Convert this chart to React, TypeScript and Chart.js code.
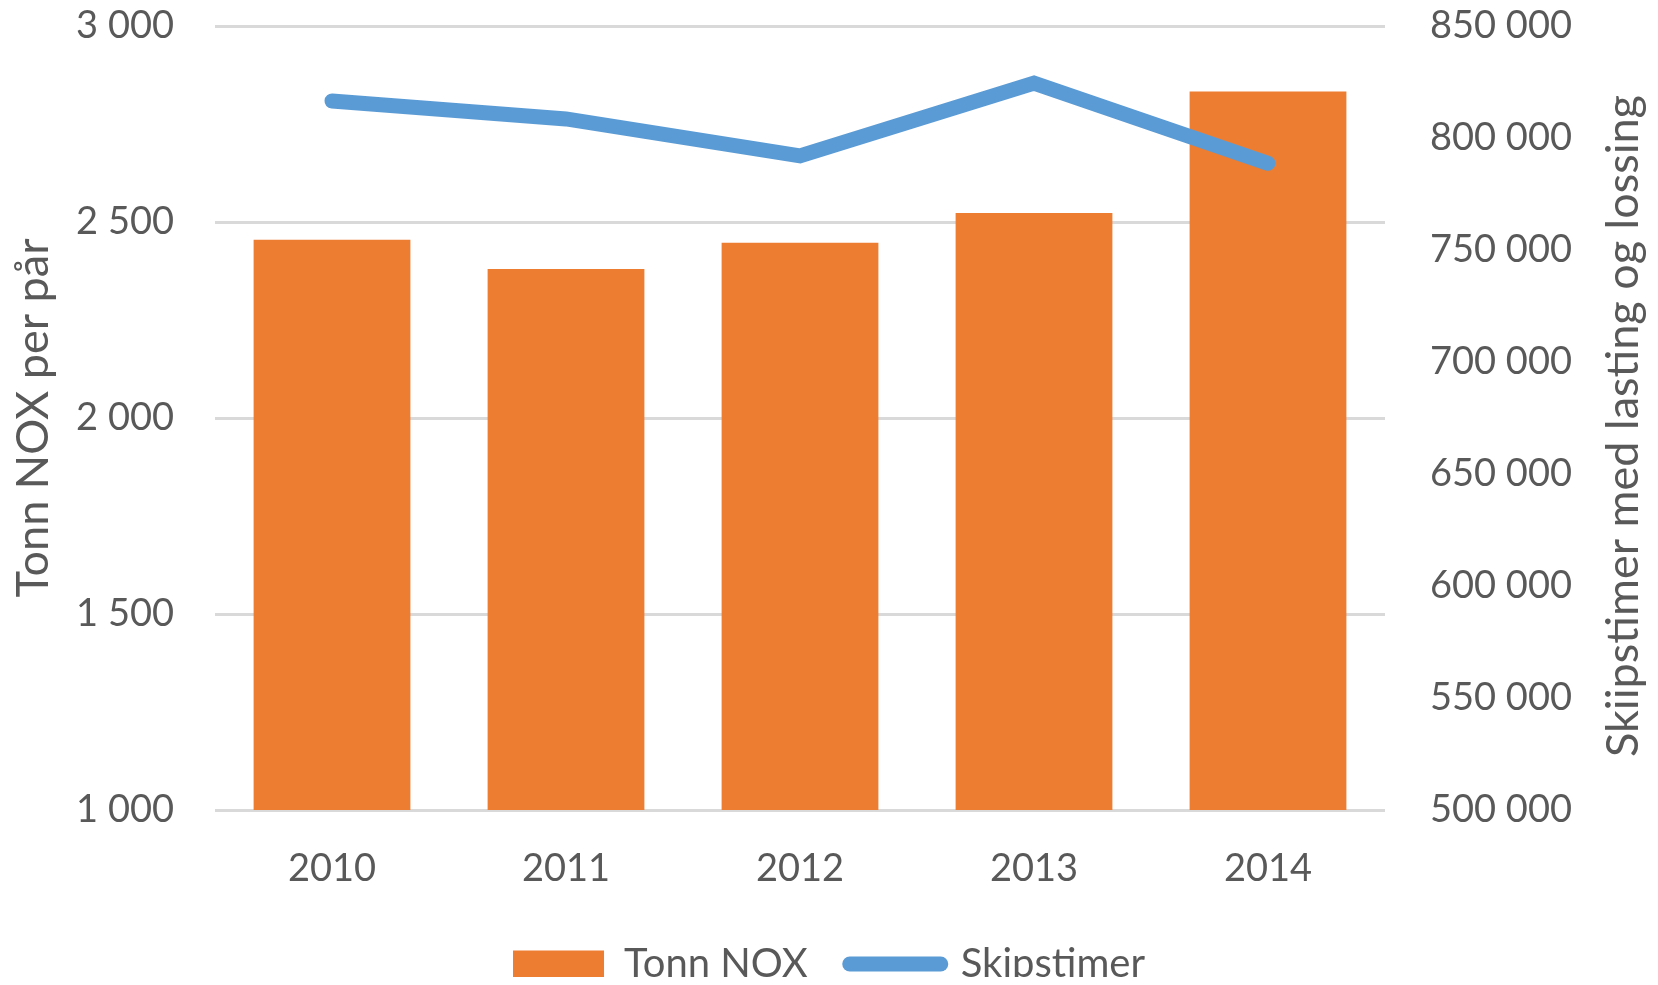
import React, { useEffect, useRef } from 'react';
import { Chart, registerables } from 'chart.js';

Chart.register(...registerables);

const years = ['2010', '2011', '2012', '2013', '2014'];
const tonnNox = [2455, 2380, 2447, 2523, 2833];
const skipstimer = [816500, 808500, 792000, 824500, 788700];
const leftMin = 1000;
const leftMax = 3000;
const leftStep = 500;
const rightMin = 500000;
const rightMax = 850000;
const rightStep = 50000;
const leftTitle = 'Tonn NOX per pår';
const rightTitle = 'Skiipstimer med lasting og lossing';
const barLabel = 'Tonn NOX';
const lineLabel = 'Skipstimer';

const FONT = 'Lato, "Open Sans", sans-serif';
const TEXT = '#595959';
const ORANGE = '#ED7D31';
const BLUE = '#5B9BD5';
const GRID = '#D9D9D9';

const W = 1658;
const H = 985;

const fmt = (v: number) => String(Math.round(v)).replace(/\B(?=(\d{3})+(?!\d))/g, ' ');

const rightTitlePlugin = {
  id: 'rightTitle',
  afterDraw(chart: any) {
    const { ctx, chartArea } = chart;
    const s = chart.scales.y1;
    ctx.save();
    ctx.translate(s.right - 35, (chartArea.top + chartArea.bottom) / 2 + 8);
    ctx.rotate(-Math.PI / 2);
    ctx.font = `45px ${FONT}`;
    ctx.fillStyle = TEXT;
    ctx.textAlign = 'center';
    ctx.textBaseline = 'middle';
    ctx.fillText(rightTitle, 0, 0);
    ctx.restore();
  },
};

const legendShiftPlugin = {
  id: 'legendShift',
  afterLayout(chart: any) {
    const l = chart.legend;
    if (l) {
      l.top += 9;
      l.bottom += 9;
    }
  },
};

export default function App() {
  const ref = useRef<HTMLCanvasElement | null>(null);

  useEffect(() => {
    if (!ref.current) return;
    const chart = new Chart(ref.current, {
      type: 'bar',
      data: {
        labels: years,
        datasets: [
          {
            type: 'bar',
            label: barLabel,
            data: tonnNox,
            backgroundColor: ORANGE,
            yAxisID: 'y',
            order: 1,
            categoryPercentage: 1,
            barPercentage: 0.67,
          } as any,
          {
            type: 'line',
            label: lineLabel,
            data: skipstimer,
            borderColor: BLUE,
            backgroundColor: BLUE,
            borderWidth: 15,
            borderCapStyle: 'round',
            borderJoinStyle: 'miter',
            pointRadius: 0,
            tension: 0,
            yAxisID: 'y1',
            order: 0,
          } as any,
        ],
      },
      options: {
        animation: false,
        responsive: false,
        maintainAspectRatio: false,
        layout: { padding: { top: 26, left: 0, right: 0, bottom: 0 } },
        plugins: {
          tooltip: { enabled: false },
          legend: {
            position: 'bottom',
            labels: {
              usePointStyle: true,
              pointStyleWidth: 91,
              boxHeight: 27,
              padding: 42,
              color: TEXT,
              font: { family: FONT, size: 40 },
              generateLabels: () => [
                {
                  text: barLabel,
                  fillStyle: ORANGE,
                  strokeStyle: ORANGE,
                  lineWidth: 0,
                  pointStyle: 'rect',
                  fontColor: TEXT,
                  hidden: false,
                  datasetIndex: 0,
                },
                {
                  text: lineLabel,
                  fillStyle: BLUE,
                  strokeStyle: BLUE,
                  lineWidth: 15,
                  lineCap: 'round',
                  pointStyle: 'line',
                  fontColor: TEXT,
                  hidden: false,
                  datasetIndex: 1,
                },
              ] as any,
            },
          },
        },
        scales: {
          x: {
            offset: true,
            grid: { display: false },
            border: { display: false },
            ticks: {
              color: TEXT,
              font: { family: FONT, size: 38 },
              padding: 28,
            },
            afterFit(scale: any) {
              scale.height = 83;
            },
          },
          y: {
            position: 'left',
            min: leftMin,
            max: leftMax,
            grid: { color: GRID, lineWidth: 3, drawTicks: false },
            border: { display: false },
            ticks: {
              stepSize: leftStep,
              color: TEXT,
              font: { family: FONT, size: 38 },
              padding: 41,
              callback: (v: any) => fmt(Number(v)),
            },
            title: {
              display: true,
              text: leftTitle,
              color: TEXT,
              font: { family: FONT, size: 45, lineHeight: 1.1 },
              padding: { top: 9, bottom: 0 },
            },
            afterFit(scale: any) {
              scale.width = 215;
              scale.paddingTop = 0;
              scale.paddingBottom = 0;
            },
          },
          y1: {
            position: 'right',
            min: rightMin,
            max: rightMax,
            grid: { display: false, drawTicks: false },
            border: { display: false },
            ticks: {
              stepSize: rightStep,
              color: TEXT,
              font: { family: FONT, size: 38 },
              padding: 45,
              callback: (v: any) => fmt(Number(v)),
            },
            afterFit(scale: any) {
              scale.width = 273;
              scale.paddingTop = 0;
              scale.paddingBottom = 0;
            },
          },
        },
      } as any,
      plugins: [rightTitlePlugin, legendShiftPlugin],
    });
    return () => chart.destroy();
  }, []);

  return (
    <div style={{ width: W, height: H, margin: -8, overflow: 'hidden' }}>
      <canvas ref={ref} width={W} height={H} style={{ display: 'block', width: W, height: H }} />
    </div>
  );
}
